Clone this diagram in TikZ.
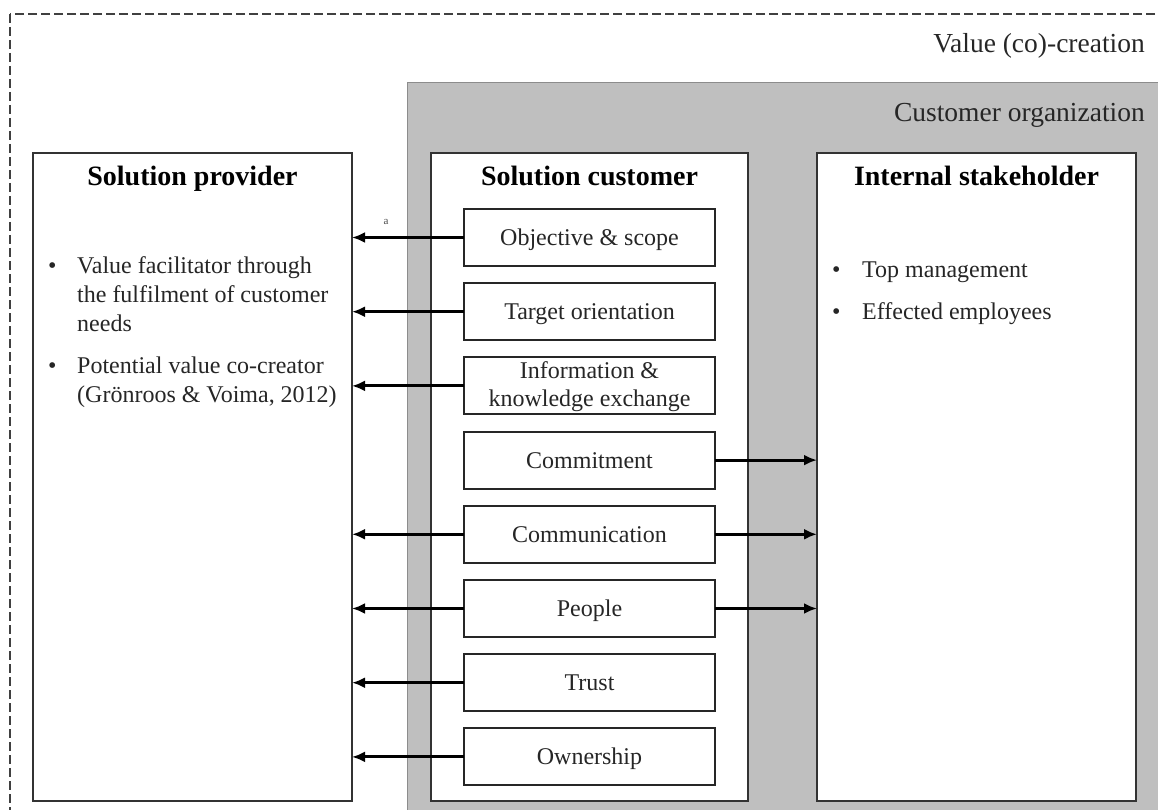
\documentclass[tikz,border=0pt]{standalone}
\usepackage{fontspec}
\setmainfont{Liberation Serif}
\usetikzlibrary{arrows.meta,positioning}

\begin{document}
\begin{tikzpicture}[
        x=1pt, y=1pt,
        panel/.style={draw=black!80, line width=2pt, fill=white, anchor=north west,
            minimum width=319pt, minimum height=648pt, inner sep=0pt, outer sep=0pt},
        factor/.style={draw=black!85, line width=2pt, fill=white, minimum width=251pt,
            minimum height=57pt, inner sep=0pt, outer sep=0pt, align=center, text=black!85,
            text height=17pt, text depth=1pt, font=\fontsize{24}{28}\selectfont},
        heading/.style={inner sep=0pt, font=\fontsize{28}{32}\selectfont\bfseries},
        areatext/.style={anchor=base east, inner sep=0pt, text=black!85,
            font=\fontsize{27.5}{32}\selectfont},
        listtext/.style={anchor=north west, inner sep=0pt, text=black!85,
            font=\fontsize{24}{29}\selectfont},
        flow/.style={-{Latex[length=13pt,width=11pt]}, line width=3pt},
        node distance=17.2pt,
    ]
    \useasboundingbox (0,0) rectangle (1158,-810);
    \clip (0,0) rectangle (1158,-810);

    % value (co)-creation frame and customer organization area
    \draw[black!75, line width=2.2pt, dash pattern=on 9pt off 4pt] (10,-14) rectangle (1180,-840);
    \fill[gray!50] (407,-83) rectangle (1180,-840);
    \draw[black!45, line width=1pt] (407,-840) -- (407,-83) -- (1180,-83);
    \node[areatext] (vcc) at (1145,-53) {Value (co)-creation};
    \node[areatext] (org) at (1145,-122) {Customer organization};

    % the three actors
    \node[panel] (prov) at (33,-153) {};
    \node[panel, minimum width=317pt] (cust) at (431,-153) {};
    \node[panel] (stake) at (817,-153) {};
    \node[heading, below=13pt of prov.north] (provtitle) {Solution provider};
    \node[heading, below=13pt of cust.north] (custtitle) {Solution customer};
    \node[heading, below=13pt of stake.north] (staketitle) {Internal stakeholder};

    \node[listtext] (provlist) at (48,-253) {\begin{tabular}{@{}p{29pt}@{}l@{}}
        \textbullet & Value facilitator through\\
                    & the fulfilment of customer\\
                    & needs\\[13pt]
        \textbullet & Potential value co-creator\\
                    & (Grönroos \& Voima, 2012)
    \end{tabular}};
    \node[listtext] (stakelist) at (832,-256.7) {\begin{tabular}{@{}p{30pt}@{}l@{}}
        \textbullet & Top management\\[13pt]
        \textbullet & Effected employees
    \end{tabular}};

    % customer factors
    \node[factor] (obj) at (589.5,-237.5) {Objective \& scope};
    \node[factor, below=of obj] (tgt) {Target orientation};
    \node[factor, below=of tgt, text height=42pt, text depth=0pt] (info) {Information \&\\knowledge exchange};
    \node[factor, below=of info] (commit) {Commitment};
    \node[factor, below=of commit] (comm) {Communication};
    \node[factor, below=of comm] (people) {People};
    \node[factor, below=of people] (trust) {Trust};
    \node[factor, below=of trust] (own) {Ownership};

    % links to the provider
    \draw[flow] (obj.west) -- (obj.west -| prov.east);
    \draw[flow] (tgt.west) -- (tgt.west -| prov.east);
    \draw[flow] (info.west) -- (info.west -| prov.east);
    \draw[flow] (comm.west) -- (comm.west -| prov.east);
    \draw[flow] (people.west) -- (people.west -| prov.east);
    \draw[flow] (trust.west) -- (trust.west -| prov.east);
    \draw[flow] (own.west) -- (own.west -| prov.east);
    \node[inner sep=0pt, text=black!70, font=\fontsize{11}{12}\selectfont] (note) at (386,-222) {a};

    % links to the internal stakeholder
    \draw[flow] (commit.east) -- (commit.east -| stake.west);
    \draw[flow] (comm.east) -- (comm.east -| stake.west);
    \draw[flow] (people.east) -- (people.east -| stake.west);
\end{tikzpicture}
\end{document}
